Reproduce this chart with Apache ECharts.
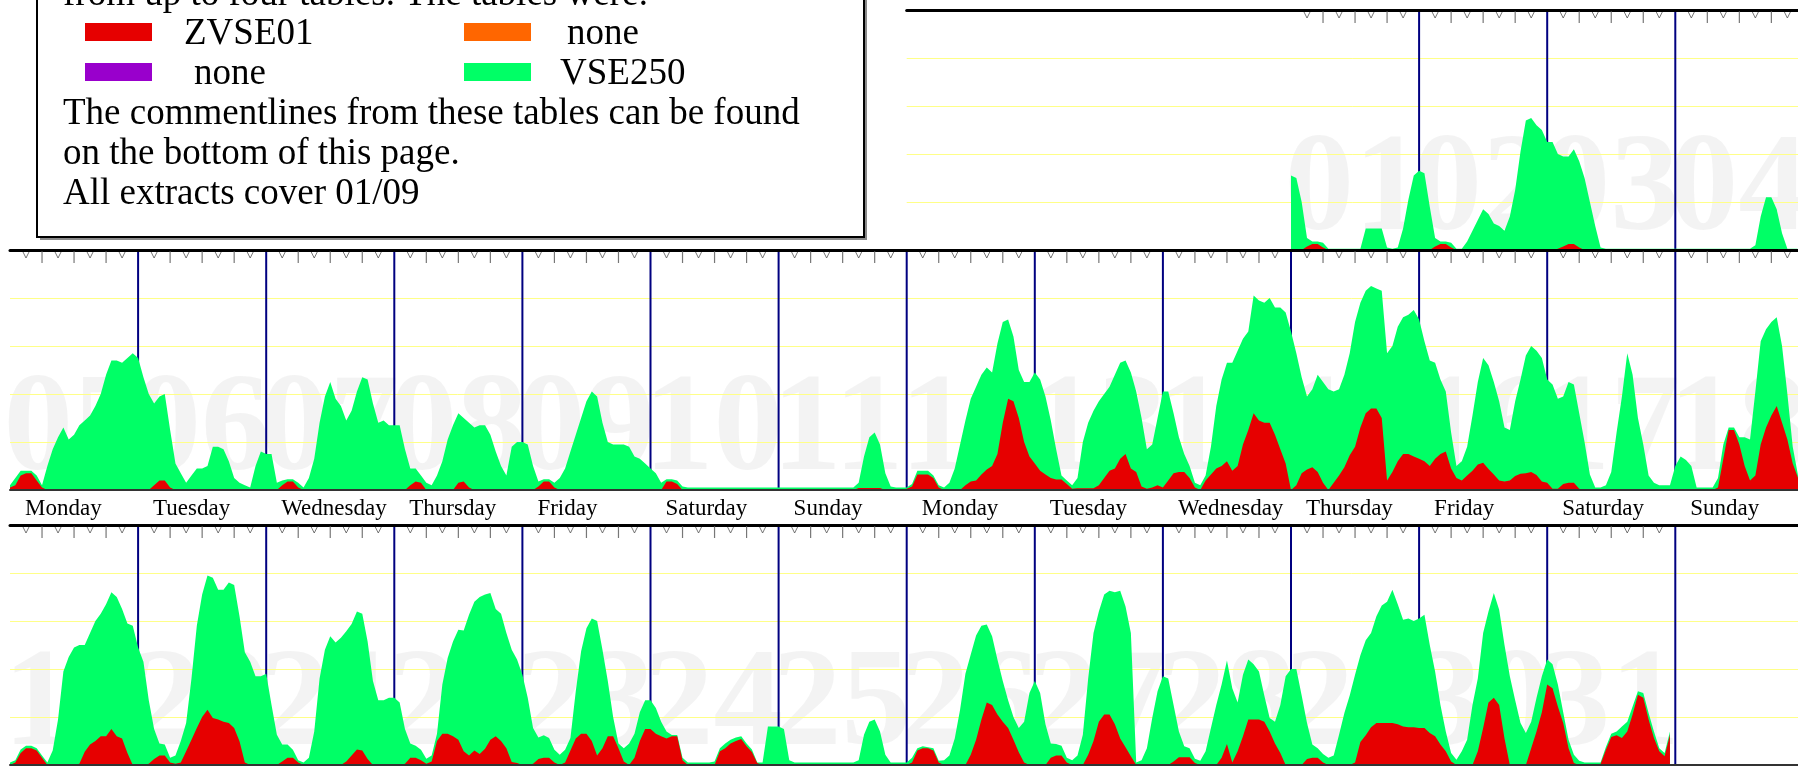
<!DOCTYPE html>
<html><head><meta charset="utf-8">
<script src="https://cdn.jsdelivr.net/npm/echarts@6/dist/echarts.min.js"></script>
<style>html,body{margin:0;padding:0;background:#fff;overflow:hidden}#c{width:1798px;height:767px}</style>
</head><body><div id="c"></div><script>
// ---------------- data ----------------
const dayNames = ['Monday','Tuesday','Wednesday','Thursday','Friday','Saturday','Sunday'];
const tableNames = ['ZVSE01','none','none','VSE250'];
const headerLines = ['from up to four tables. The tables were:'];
const noteLines = ['The commentlines from these tables can be found','on the bottom of this page.','All extracts cover 01/09'];

// Each row = two weeks (14 day slots, Monday first); values are hourly, % of axis max.
const row1Days = ['01','02','03','04'];
const row1FirstSlot = 10;   // day 01 falls on the Thursday of the second week
const row1Vse250 = [
 [31,30,20,5,3.5,3.5,3,0.5,0.5,0.5,0.5,0.5,0.5,0.5,9,9,9,9,1,0.5,1,9,21,31],
 [33,32,18,5,3.5,3.5,3,0.5,0.5,3.5,8,12.5,17,15,11,10,8,14,25,41,54,55,52,50],
 [45,45,40,39,39,42,37,30,20,10,1,0.5,0.5,0.5,0.5,0.5,0.5,0.5,0.5,0.5,0.5,0.5,0.5,0.5],
 [0.5,0.5,0.5,0.5,0.5,0.5,0.5,0.5,0.5,0.5,0.5,0.5,0.5,0.5,0.5,2,14,22,22,17,7,0.5,0.5,0.5]
];
const row1Zvse01 = [
 [0,0,0,1.5,2.5,2.5,1,0,0,0,0,0,0,0,0,0,0,0,0,0,0,0,0,0],
 [0,0,0,1.5,2.5,2.5,1,0,0,0,0,0,0,0,0,0,0,0,0,0,0,0,0,0],
 [0,0,0.5,1.5,2.5,2.5,1,0,0,0,0,0,0,0,0,0,0,0,0,0,0,0,0,0],
 [0,0,0,0,0,0,0,0,0,0,0,0,0,0,0,0,0,0,0,0,0,0,0,0]
];

const row2Days = ['05','06','07','08','09','10','11','12','13','14','15','16','17','18'];
const row2FirstSlot = 0;
const row2Vse250 = [
 [2,5,8,8,8,6,2,10,17,22,26,21,23,27,29,31,35,40,48,54,54,53,55,57],
 [55,47,40,36,39,40,25,11,7,3,6,9,9,10,18,18,17,12,5,3,2,1,10,16],
 [15,15,3,4,4.5,4.5,3,1,5,13,28,39,45,38,35,29,33,41,47,46,36,28,29,27],
 [27,27,17,9,9,6,3,2,6,12,21,27,32,30,28,26,27,27,23,16,10,6,18,20],
 [20,19,10,3.5,4.5,4.5,3,5,9,16,23,30,37,41,39,28,20,19,19,19,18,14,13,11],
 [9,7,3,4.5,4.5,4,1.5,1,1,1,1,1,1,1,1,1,1,1,1,1,1,1,1,1],
 [1,1,1,1,1,1,1,1,1,1,1,1,1,1,1,3,14,22,24,19,7,1.5,1,1],
 [1,2.5,8,8,8,6,2,1,3,9,19,29,38,43,48,51,49,61,70,71,64,50,45,45],
 [49,46,39,29,17,6,4,2,5,20,28,33,37,40,43,48,53,54,49,41,30,17,19,30],
 [41,41,32,22,15,10,3,2,6,18,35,46,53,53,58,63,66,81,79,78,80,76,76,74],
 [66,57,47,39,42,48,45,42,41,42,48,57,70,78,83,85,84,83,57,60,68,72,73,75],
 [71,62,54,53,46,41,24,10,12,18,31,45,55,52,45,37,26,25,37,46,56,60,58,55],
 [46,44,38,39,45,44,32,20,6.5,1,1,2,7.5,24,39,57,48,30,19,6,3,2,2,2],
 [10,14,12.5,10,1,1,1,1,5,19,26,26,22,22,21,41,62,67,70,72,60,40,18,6]
];
const row2Zvse01 = [
 [1,2,6,7,7,4,1,0,0,0,0,0,0,0,0,0,0,0,0,0,0,0,0,0],
 [0,0,0,2,4,4,1,0,0,0,0,0,0,0,0,0,0,0,0,0,0,0,0,0],
 [0,0,0,2,3.5,3.5,1,0,0,0,0,0,0,0,0,0,0,0,0,0,0,0,0,0],
 [0,0,0,2,3.5,3,0,0,0,0,0,0,3,3.5,1,0,0,0,0,0,0,0,0,0],
 [0,0,0,1.5,3.5,3.5,1,0,0,0,0,0,0,0,0,0,0,0,0,0,0,0,0,0],
 [0,0,0,3.5,3.5,2.5,0,0,0,0,0,0,0,0,0,0,0,0,0,0,0,0,0,0],
 [0,0,0,0,0,0,0,0,0,0,0,0,0,0,0,0.8,0.8,0.8,0.8,0.8,0,0,0,0],
 [0.5,1.5,6.5,6.5,6.5,5,1,0,0,0,0,2,3.5,4,6.5,8.5,10,15,28,38,37,30,20,14],
 [11,8,6.5,5,4.4,4.4,2.5,0.5,0.7,0.7,0.7,0.7,2,5,8,9,13,15,9,7.5,1.5,0.5,1,2],
 [1,4,7,7.5,7.5,5,1,0,4,6.5,9,10,12,8,10,19,25,32,29,28,28,23,17,11],
 [0,2,7,8.5,9.5,7.5,3,0,3,6,9.5,14.5,18,26,32,34,34,30,4,7.5,12,15,15,14],
 [13,12,10,13,15,16,9,5,4,6,8,10.6,11.4,8.8,6.5,4,3.5,4,5.8,6.8,7,7.5,6.3,3.5],
 [3,0.5,0.5,2.5,3,3,0.5,0,0,0,0,0,0,0,0,0,0,0,0,0,0,0,0,0],
 [0,0,0,0,0,0,0,0,1,13,25,25,19,10,4,6,19,26,31,35,28,21,11,5]
];

const row3Days = ['19','20','21','22','23','24','25','26','27','28','29','30','31'];
const row3FirstSlot = 0;
const row3Vse250 = [
 [1,2,6.5,8,8,7,4,1,6,19,39,45,49,50,50,55,60,63,67,72,70,65,59,58],
 [49,43,27,15,9,8.5,3,4,10,17.5,36,58,71,79,78,73,73,76,75,62,47,43,37,37],
 [38,25,12.6,8.5,8.5,6.4,2,1,3,14,36,48,53.6,51,53,55.7,58.7,64,63,51.5,35,27,27,28],
 [28,26,15,9,8,6.4,2.6,4,13,33.5,44.6,51.5,56.4,56,62.6,68,70,71,71.7,65,63,55,48,44],
 [37.6,28,15.4,11.5,12.4,11.3,6.4,4.3,6.4,11.3,30.7,47.4,57,61,60,48,35,20,9,7,9,13,22,27],
 [27,23.7,18,14,12.5,12.5,3,1,1,1,1,1,1.5,7,9,10.5,11.5,12,9,6.5,1,1,16,16],
 [16,15,2,1,1,1,1,1,1,1,1,1,1,1,1,2,12.6,18,19,14,4.3,1,1,1],
 [1,3,7,7.8,7.4,7,1.8,2,4,11,23,38,46,54,58,58.5,53.6,44,35,27,20,15.4,18,30],
 [35,30,17,9,8.7,8,3,2,4,12.6,36,55,64,71,72.6,72,72.6,66,55,1,2,7,19.6,30.7],
 [37,36,25,14,7.8,7,2.6,1.8,5.7,15.4,25,33.5,43.5,32,26,37.6,44,42,39,29,19.6,18,25,37],
 [40,40,29,17.5,8.5,7,4.6,3,4,12.6,21.7,29,37.6,45.7,52,55,62,66.5,68,73,67,60.5,61,60],
 [61,62.6,50,39,25,14,5,2.2,5.7,10.5,25,36,55,64,71.7,64.7,50,37,27,17.5,13.3,18,28,37],
 [44,42,33.5,22,10.5,4.3,1.8,1,1,1,1,7.5,13,14,16,18,24.4,30.7,30,21.7,14,7,5,14]
];
const row3Zvse01 = [
 [0,1,5,7,7,6,3,0,0,0,0,0,0,0.5,5.5,8.5,10,12,12,15,12,11,5,0],
 [0,0,0.5,2.5,4,4,1,0.5,1,5.7,10.5,15.4,20,23,19.6,19,18,17.5,15.4,9.9,1,0,0,0],
 [0,0,0,1.5,3,3,1,0,0,0,0,0,0,0,0,1.5,4,6.5,6,2.5,0,0,0,0],
 [0,0,0.5,3,3,2,0.5,1.5,10,13,13,12,10.5,5.7,4,6,4.6,6.8,10.5,12,10,7,1.2,0.8],
 [0,0,0.5,2.5,3,3,1,0,1,6,11,13,13,10,4,7,12,12,7,1.5,0,3,10,15],
 [15,13,12,11,12,12,2,0,0,0,0,0,0,5.7,7,9,10,10.8,7.8,5.4,0.8,0,0,0],
 [0,0,0,0,0,0,0,0,0,0,0,0,0,0,0,0,0,0,0,0,0,0,0,0],
 [0,1,6,7,7,6,1,0,0,0,0,0,4.3,10.5,19,26,25,21,18,15.4,10.5,5.3,1,0],
 [0,0,0,3,4,4,1,0,0,0,4.3,10,18,21,21,17,11,7.4,3.6,0,0,0,0,0],
 [0,0,1.5,3.2,3.2,3.2,0.8,0,0,0,0,3,8.7,1,5.7,12,19,19,19,18,14,9,5,0],
 [0,0,0,2.5,3,3,1,0,0,0,0,0,1,9.6,12.4,15.7,17.5,17.5,17.5,17.5,17,16,15.7,15.7],
 [15.4,15.4,13.3,12,8.5,5.7,1.5,0,0,0,0,5.7,15.4,26,28,25,11,0,0,0,0,7,14,22],
 [33.5,32,24.4,17.5,7,0.8,0,0,0,0,0.4,6.4,11.7,12.4,11.3,14,21,29.3,28,19,11.3,5.7,3.6,12.6]
];

// ---------------- styles / layout ----------------
const palette = {zvse01:'#e60000', vse250:'#00ff66', orange:'#ff6600', purple:'#9900cc',
  dayLine:'#000080', gridLine:'#ffff88', watermark:'#f0f0f0', tick:'#555555'};
const DAY_W = 128.1, LEFT = 10, ROW_H = 240;
const ROW_TOPS = [10, 250, 525];
const SLOT_HOURS = 24, ROW_SLOTS = 14, ROW_MAX = ROW_SLOTS * SLOT_HOURS;
const WATERMARK_Y = 23.5;

const rows = [
  {days: row1Days, first: row1FirstSlot, green: row1Vse250, red: row1Zvse01, min: 7 * SLOT_HOURS},
  {days: row2Days, first: row2FirstSlot, green: row2Vse250, red: row2Zvse01, min: 0},
  {days: row3Days, first: row3FirstSlot, green: row3Vse250, red: row3Zvse01, min: 0}
];

const grids = rows.map((row, r) => {
  const startSlot = row.min / SLOT_HOURS;
  return {left: LEFT + startSlot * DAY_W, top: ROW_TOPS[r],
          width: (ROW_SLOTS - startSlot) * DAY_W, height: ROW_H,
          containLabel: false, outerBoundsMode: 'none'};
});

const xAxes = rows.map((row, r) => ({
  gridIndex: r, type: 'value', min: row.min, max: ROW_MAX, position: 'top', z: 10,
  axisLine: {show: true, onZero: false, lineStyle: {color: '#000', width: 3}},
  axisTick: {show: false}, axisLabel: {show: false}, splitLine: {show: false}
}));
// row 2 bottom: day names
xAxes.push({
  gridIndex: 1, type: 'value', min: 0, max: ROW_MAX, interval: SLOT_HOURS, position: 'bottom', z: 10,
  axisLine: {show: true, onZero: false, lineStyle: {color: '#333', width: 2}},
  axisTick: {show: false}, splitLine: {show: false},
  axisLabel: {show: true, margin: 7, align: 'left', padding: [0, 0, 0, 15],
    fontFamily: 'Liberation Serif', fontSize: 23, color: '#000',
    formatter: v => v < ROW_MAX ? dayNames[Math.round(v / SLOT_HOURS) % 7] : ''}
});
// row 3 bottom baseline
xAxes.push({
  gridIndex: 2, type: 'value', min: 0, max: ROW_MAX, position: 'bottom', z: 10,
  axisLine: {show: true, onZero: false, lineStyle: {color: '#333', width: 2}},
  axisTick: {show: false}, axisLabel: {show: false}, splitLine: {show: false}
});

const yAxes = rows.map((row, r) => ({
  gridIndex: r, type: 'value', min: 0, max: 100, interval: 20, z: 2,
  axisLine: {show: false}, axisTick: {show: false}, axisLabel: {show: false},
  splitLine: {show: true, lineStyle: {color: palette.gridLine, width: 1}}
}));

const series = [];
rows.forEach((row, r) => {
  const ax = {xAxisIndex: r, yAxisIndex: r};
  const flat = arr => {
    const out = [];
    arr.forEach((d, i) => d.forEach((v, h) => out.push([(row.first + i) * SLOT_HOURS + h, v])));
    return out;
  };
  // big day-number watermarks
  series.push({type: 'scatter', ...ax, z: 1, silent: true, clip: false, symbolSize: 1,
    itemStyle: {color: 'rgba(0,0,0,0)'},
    data: row.days.map((d, i) => [(row.first + i) * SLOT_HOURS, WATERMARK_Y]),
    label: {show: true, position: [-6, 0], align: 'left', verticalAlign: 'middle',
      formatter: p => row.days[p.dataIndex], fontFamily: 'Liberation Serif',
      fontWeight: 'bold', fontSize: 139, color: palette.watermark}});
  // vertical day separators at the end of each day
  const sep = [];
  row.days.forEach((d, i) => {
    const x = (row.first + i + 1) * SLOT_HOURS;
    sep.push([x, 0], [x, 100], [x, null]);
  });
  series.push({type: 'line', ...ax, z: 3, silent: true, symbol: 'none', clip: false,
    connectNulls: false, data: sep, lineStyle: {color: palette.dayLine, width: 2}});
  // VSE250 (green) behind ZVSE01 (red)
  series.push({name: 'VSE250', type: 'line', ...ax, z: 4, silent: true, symbol: 'none',
    data: flat(row.green), lineStyle: {width: 0}, itemStyle: {color: palette.vse250},
    areaStyle: {color: palette.vse250, opacity: 1}});
  series.push({name: 'ZVSE01', type: 'line', ...ax, z: 5, silent: true, symbol: 'none',
    data: flat(row.red), lineStyle: {width: 0}, itemStyle: {color: palette.zvse01},
    areaStyle: {color: palette.zvse01, opacity: 1}});
  // hour ticks on the top line for days that have data
  const bars = [], vees = [];
  row.days.forEach((d, i) => {
    const s = (row.first + i) * SLOT_HOURS;
    [6, 12, 18].forEach(h => bars.push([s + h, 100]));
    [3, 9, 15, 21].forEach(h => vees.push([s + h, 100]));
  });
  series.push({type: 'scatter', ...ax, z: 11, silent: true, clip: false, symbol: 'rect',
    symbolSize: [1.2, 12], symbolOffset: [0, 7], data: bars, itemStyle: {color: palette.tick}});
  series.push({type: 'scatter', ...ax, z: 11, silent: true, clip: false,
    symbol: 'path://M0,0L5,7L10,0', symbolSize: [6, 6], symbolOffset: [0, 5], data: vees,
    itemStyle: {color: 'none', borderColor: palette.tick, borderWidth: 1}});
});

// ---------------- legend box ----------------
const FONT = '37px "Liberation Serif"';
const swatchColors = [palette.zvse01, palette.orange, palette.purple, palette.vse250];
const swatchPos = [[85, 23], [464, 23], [85, 63], [464, 63]];
const namePos = [[184, 34.5], [567, 34.5], [194, 74.5], [560, 74.5]];
const elements = [
  {type: 'rect', z: 0, shape: {x: 40, y: -10, width: 827, height: 250}, style: {fill: '#8a8a8a'}},
  {type: 'rect', z: 1, shape: {x: 37, y: -10, width: 827, height: 247},
   style: {fill: '#fff', stroke: '#000', lineWidth: 2}}
];
headerLines.forEach((t, i) => elements.push({type: 'text', z: 2,
  style: {text: t, x: 63, y: -4.5 + 40 * i, font: FONT, fill: '#000', align: 'left', verticalAlign: 'middle'}}));
tableNames.forEach((t, i) => {
  elements.push({type: 'rect', z: 2, shape: {x: swatchPos[i][0], y: swatchPos[i][1], width: 67, height: 18},
    style: {fill: swatchColors[i]}});
  elements.push({type: 'text', z: 2, style: {text: t, x: namePos[i][0], y: namePos[i][1], font: FONT,
    fill: '#000', align: 'left', verticalAlign: 'middle'}});
});
noteLines.forEach((t, i) => elements.push({type: 'text', z: 2,
  style: {text: t, x: 63, y: 114.5 + 40 * i, font: FONT, fill: '#000', align: 'left', verticalAlign: 'middle'}}));

const chart = echarts.init(document.getElementById('c'), null, {renderer: 'canvas'});
chart.setOption({
  animation: false, backgroundColor: '#fff',
  grid: grids, xAxis: xAxes, yAxis: yAxes, series,
  graphic: {elements}
});
</script></body></html>
